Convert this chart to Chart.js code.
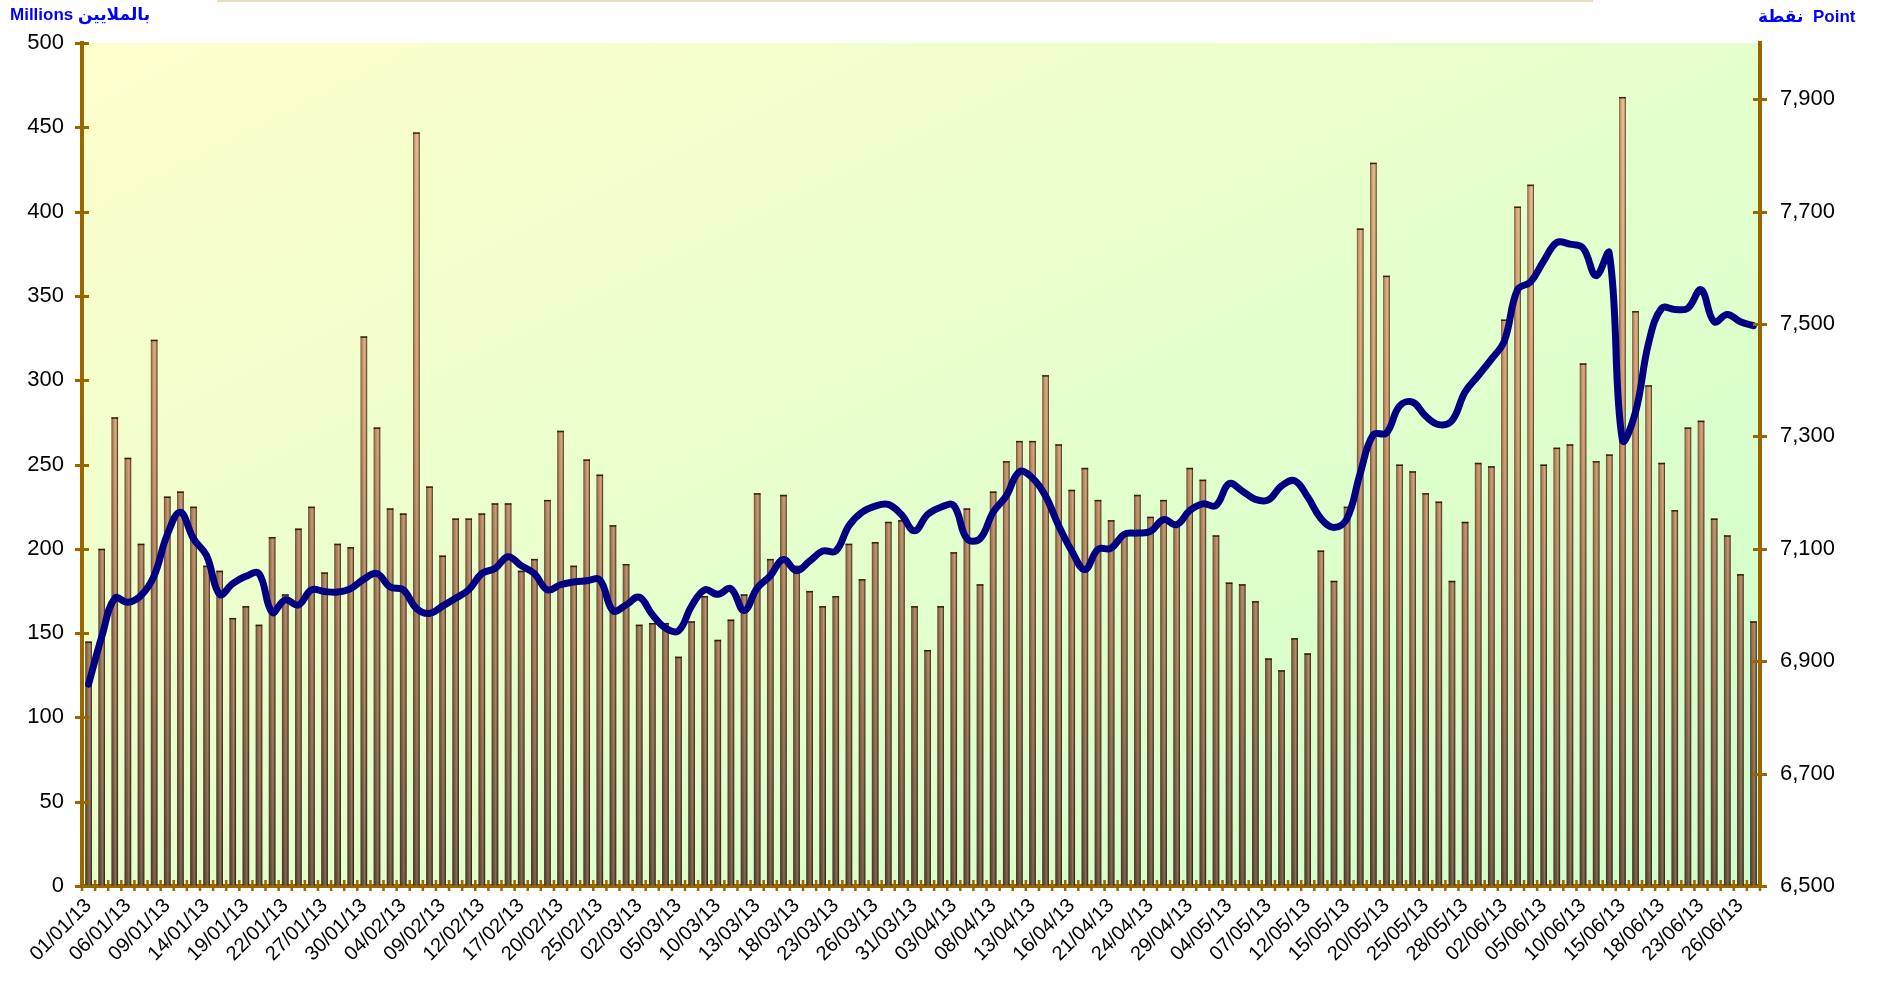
<!DOCTYPE html>
<html>
<head>
<meta charset="utf-8">
<script src="https://cdn.jsdelivr.net/npm/chart.js@4.4.0/dist/chart.umd.min.js"></script>
<style>
html, body { margin: 0; padding: 0; background: #fff; }
#wrap { position: relative; width: 1879px; height: 987px; }
#chart { position: absolute; left: 0; top: 0; }
.ttl { position: absolute; font-family: Arial, "Liberation Sans", "DejaVu Sans", sans-serif; font-weight: bold; font-size: 17px; color: #0000ff; white-space: nowrap; }
</style>
</head>
<body>
<div id="wrap">
    <canvas id="chart" width="1879" height="987"></canvas>
    <div class="ttl" style="left:10px; top:4px;">Millions بالملايين</div>
    <div class="ttl" style="left:1758px; top:6px;">نقطة&nbsp; Point</div>
</div>
<script>
const dates = [
    '01/01/13','02/01/13','05/01/13','06/01/13','07/01/13','08/01/13','09/01/13','12/01/13','13/01/13','14/01/13','15/01/13',
    '16/01/13','19/01/13','20/01/13','21/01/13','22/01/13','23/01/13','26/01/13','27/01/13','28/01/13','29/01/13','30/01/13',
    '02/02/13','03/02/13','04/02/13','05/02/13','06/02/13','09/02/13','10/02/13','11/02/13','12/02/13','13/02/13',
    '16/02/13','17/02/13','18/02/13','19/02/13','20/02/13','23/02/13','24/02/13','25/02/13','26/02/13','27/02/13',
    '02/03/13','03/03/13','04/03/13','05/03/13','06/03/13','09/03/13','10/03/13','11/03/13','12/03/13','13/03/13','16/03/13',
    '17/03/13','18/03/13','19/03/13','20/03/13','23/03/13','24/03/13','25/03/13','26/03/13','27/03/13','30/03/13','31/03/13',
    '01/04/13','02/04/13','03/04/13','06/04/13','07/04/13','08/04/13','09/04/13','10/04/13','13/04/13','14/04/13','15/04/13',
    '16/04/13','17/04/13','20/04/13','21/04/13','22/04/13','23/04/13','24/04/13','27/04/13','28/04/13','29/04/13','30/04/13',
    '01/05/13','04/05/13','05/05/13','06/05/13','07/05/13','08/05/13','11/05/13','12/05/13','13/05/13','14/05/13','15/05/13',
    '18/05/13','19/05/13','20/05/13','21/05/13','22/05/13','25/05/13','26/05/13','27/05/13','28/05/13','29/05/13',
    '01/06/13','02/06/13','03/06/13','04/06/13','05/06/13','08/06/13','09/06/13','10/06/13','11/06/13','12/06/13','15/06/13',
    '16/06/13','17/06/13','18/06/13','19/06/13','22/06/13','23/06/13','24/06/13','25/06/13','26/06/13','30/06/13'
];

// traded value, millions (left axis)
const volume = [
    145, 200, 278, 254, 203, 324, 231, 234, 225, 190, 187, 159, 166, 155, 207, 173, 212, 225, 186, 203, 201, 326,
    272, 224, 221, 447, 237, 196, 218, 218, 221, 227, 227, 187, 194, 229, 270, 190, 253, 244, 214, 191,
    155, 156, 156, 136, 157, 172, 146, 158, 173, 233, 194, 232, 190, 175, 166, 172, 203, 182, 204, 216, 217, 166,
    140, 166, 198, 224, 179, 234, 252, 264, 264, 303, 262, 235, 248, 229, 217, 208, 232, 219, 229, 214, 248, 241,
    208, 180, 179, 169, 135, 128, 147, 138, 199, 181, 225, 390, 429, 362, 250, 246, 233, 228, 181, 216, 251,
    249, 336, 403, 416, 250, 260, 262, 310, 252, 256, 468, 341, 297, 251, 223, 272, 276, 218, 208, 185, 157
];

// index close, points (right axis)
const indexPoints = [
    6859, 6943, 7012, 7005, 7017, 7052, 7125, 7165, 7118, 7088, 7019, 7038, 7051, 7056, 6987, 7009, 7000, 7027, 7024, 7023, 7029, 7046,
    7056, 7032, 7027, 6994, 6985, 6998, 7012, 7027, 7056, 7065, 7086, 7070, 7056, 7027, 7036, 7041, 7043, 7045, 6990, 7000,
    7014, 6983, 6959, 6954, 6998, 7027, 7019, 7029, 6990, 7030, 7052, 7081, 7061, 7078, 7096, 7096, 7141, 7165, 7176, 7179, 7161, 7132,
    7161, 7174, 7177, 7118, 7118, 7165, 7194, 7237, 7226, 7194, 7141, 7096, 7063, 7099, 7101, 7126, 7128, 7131, 7152, 7143, 7168, 7180,
    7177, 7216, 7203, 7188, 7187, 7212, 7221, 7192, 7154, 7138, 7154, 7234, 7303, 7306, 7354, 7361, 7336, 7321, 7328, 7379, 7408,
    7437, 7470, 7561, 7575, 7612, 7645, 7642, 7635, 7586, 7626, 7294, 7343, 7466, 7528, 7526, 7528, 7561, 7504, 7517, 7504, 7497
];

const volumeTicks = [0, 50, 100, 150, 200, 250, 300, 350, 400, 450, 500];
const pointTicks = [6500, 6700, 6900, 7100, 7300, 7500, 7700, 7900];

const AXIS = '#996600';
const FONT = 'Arial, "Liberation Sans", sans-serif';

// plot area fill, diagonal yellow -> green
const plotBackground = {
    id: 'plotBackground',
    beforeDraw(chart) {
        const { ctx, chartArea: a } = chart;
        ctx.save();
        ctx.fillStyle = '#eadcc0';
        ctx.fillRect(217, 0, 1376, 2);
        ctx.translate(a.left, a.top);
        ctx.scale(a.right - a.left, a.bottom - a.top);
        const g = ctx.createLinearGradient(0, 0, 1, 1);
        g.addColorStop(0, '#ffffcc');
        g.addColorStop(1, '#ccffcc');
        ctx.fillStyle = g;
        ctx.fillRect(0, 0, 1, 1);
        ctx.restore();
    }
};

// cylinder look on the bars
const barShading = {
    id: 'barShading',
    afterDatasetDraw(chart, args) {
        if (args.index !== 0) return;
        const ctx = chart.ctx;
        ctx.save();
        args.meta.data.forEach(bar => {
            const { x, y, base, width } = bar.getProps(['x', 'y', 'base', 'width'], true);
            const l = x - width / 2;
            const g = ctx.createLinearGradient(l, 0, l + width, 0);
            g.addColorStop(0, 'rgba(45,28,12,0.6)');
            g.addColorStop(0.3, 'rgba(45,28,12,0.12)');
            g.addColorStop(0.62, 'rgba(255,225,180,0.2)');
            g.addColorStop(0.8, 'rgba(45,28,12,0.1)');
            g.addColorStop(1, 'rgba(20,12,4,0.95)');
            ctx.fillStyle = g;
            ctx.fillRect(l, y, width, base - y);
            ctx.fillStyle = 'rgba(35,22,8,0.9)';
            ctx.fillRect(l, y, width, 1.5);
        });
        ctx.restore();
    }
};

// tick marks crossing the axis lines
const crossTicks = {
    id: 'crossTicks',
    afterDraw(chart) {
        const { ctx, chartArea: a, scales } = chart;
        ctx.save();
        ctx.strokeStyle = AXIS;
        ctx.lineWidth = 3;
        ctx.beginPath();
        scales.y.ticks.forEach(t => {
            const py = Math.round(scales.y.getPixelForValue(t.value)) + 0.5;
            ctx.moveTo(a.left - 7, py);
            ctx.lineTo(a.left + 7, py);
        });
        scales.y1.ticks.forEach(t => {
            const py = Math.round(scales.y1.getPixelForValue(t.value)) + 0.5;
            ctx.moveTo(a.right - 7, py);
            ctx.lineTo(a.right + 7, py);
        });
        ctx.stroke();
        ctx.lineWidth = 2.5;
        ctx.beginPath();
        for (let i = 0; i <= dates.length; i++) {
            const px = scales.x.getPixelForValue(i - 0.5);
            ctx.moveTo(px, a.bottom - 6);
            ctx.lineTo(px, a.bottom + 5);
        }
        ctx.stroke();
        ctx.restore();
    }
};

function barFill(context) {
    const a = context.chart.chartArea;
    if (!a) return '#c8a07a';
    const g = context.chart.ctx.createLinearGradient(0, a.top, 0, a.bottom);
    g.addColorStop(0, '#f3c595');
    g.addColorStop(0.45, '#d4a073');
    g.addColorStop(1, '#6a523e');
    return g;
}

new Chart(document.getElementById('chart'), {
    type: 'bar',
    data: {
        labels: dates,
        datasets: [{
            type: 'bar',
            label: 'Millions',
            data: volume,
            yAxisID: 'y',
            backgroundColor: barFill,
            borderWidth: 0,
            barPercentage: 0.5,
            categoryPercentage: 1.0,
            order: 1
        }, {
            type: 'line',
            label: 'Point',
            data: indexPoints,
            yAxisID: 'y1',
            borderColor: '#000080',
            borderWidth: 7,
            borderCapStyle: 'round',
            borderJoinStyle: 'round',
            pointRadius: 0,
            tension: 0.4,
            fill: false,
            order: 0
        }]
    },
    options: {
        responsive: false,
        animation: false,
        devicePixelRatio: 1,
        layout: { padding: { top: 43, left: 0, right: 0, bottom: 0 } },
        plugins: {
            legend: { display: false },
            tooltip: { enabled: false }
        },
        scales: {
            x: {
                offset: true,
                grid: { display: true, drawOnChartArea: false, drawTicks: false, offset: true },
                border: { display: true, color: AXIS, width: 4 },
                ticks: {
                    autoSkip: false,
                    minRotation: 45,
                    maxRotation: 45,
                    padding: 8,
                    color: '#000',
                    font: { family: FONT, size: 20 },
                    callback: (v, i) => (i % 3 === 0 ? dates[i] : '')
                },
                afterFit: s => { s.height = 101; }
            },
            y: {
                position: 'left',
                min: 0,
                max: 500,
                grid: { display: true, drawOnChartArea: false, drawTicks: false },
                border: { display: true, color: AXIS, width: 4 },
                ticks: { padding: 18, color: '#000', font: { family: FONT, size: 22 } },
                afterBuildTicks: s => { s.ticks = volumeTicks.map(v => ({ value: v })); },
                afterFit: s => { s.width = 82; }
            },
            y1: {
                position: 'right',
                min: 6500,
                max: 8000,
                grid: { display: true, drawOnChartArea: false, drawTicks: false },
                border: { display: true, color: AXIS, width: 4 },
                ticks: {
                    padding: 20,
                    color: '#000',
                    font: { family: FONT, size: 22 },
                    callback: v => v.toLocaleString('en-US')
                },
                afterBuildTicks: s => { s.ticks = pointTicks.map(v => ({ value: v })); },
                afterFit: s => { s.width = 119; }
            }
        }
    },
    plugins: [plotBackground, barShading, crossTicks]
});
</script>
</body>
</html>
